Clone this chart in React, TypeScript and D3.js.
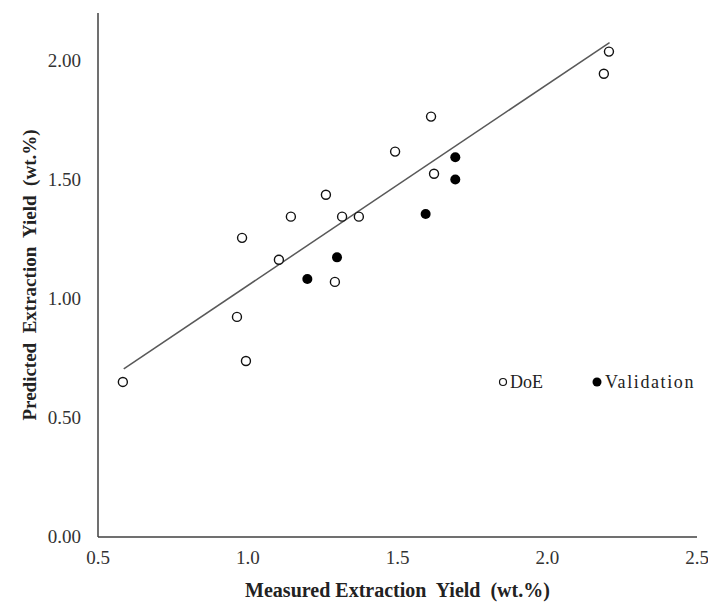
import React from "react";
import * as d3 from "d3";

// DoE runs (open markers)
const doeMeasured = [0.583, 0.964, 0.981, 0.994, 1.104, 1.144, 1.261, 1.291, 1.315, 1.371, 1.492, 1.612, 1.622, 2.189, 2.206];
const doePredicted = [0.651, 0.924, 1.256, 0.739, 1.164, 1.345, 1.437, 1.071, 1.345, 1.345, 1.618, 1.765, 1.525, 1.945, 2.038];

// Validation runs (filled markers)
const valMeasured = [1.199, 1.298, 1.594, 1.693, 1.693];
const valPredicted = [1.083, 1.174, 1.356, 1.501, 1.594];

// linear trendline end points
const trendX = [0.586, 2.208];
const trendY = [0.706, 2.076];

const xTicks = [0.5, 1.0, 1.5, 2.0, 2.5];
const yTicks = [0, 0.5, 1.0, 1.5, 2.0];

const W = 708;
const H = 604;
const font = "Liberation Serif";

const App = () => {
  const margin = { top: 13, right: 11, bottom: 67, left: 98 };

  const x = d3
    .scaleLinear()
    .domain([0.5, 2.5])
    .range([margin.left, W - margin.right]);

  const y = d3
    .scaleLinear()
    .domain([0, 2.2])
    .range([H - margin.bottom, margin.top]);

  const line = d3
    .line<number>()
    .x((d) => x(d))
    .y((d, i) => y(trendY[i]));

  const doe = doeMeasured.map((m, i) => ({ m, p: doePredicted[i] }));
  const val = valMeasured.map((m, i) => ({ m, p: valPredicted[i] }));

  return (
    <svg width={W} height={H} style={{ position: "absolute", left: 0, top: 0 }}>
      <rect width={W} height={H} fill="#fff" />

      {/* axes */}
      <line x1={x(0.5)} x2={x(0.5)} y1={y(2.2)} y2={y(0)} stroke="#404040" strokeWidth={1.5} />
      <line x1={x(0.5)} x2={x(2.5)} y1={y(0)} y2={y(0)} stroke="#404040" strokeWidth={1.5} />

      {xTicks.map((t) => (
        <text key={t} x={x(t)} y={y(0) + 27} textAnchor="middle" fontFamily={font} fontSize={19} fill="#333">
          {d3.format(".1f")(t)}
        </text>
      ))}
      {yTicks.map((t) => (
        <text key={t} x={x(0.5) - 17} y={y(t) + 6} textAnchor="end" fontFamily={font} fontSize={19} fill="#333">
          {d3.format(".2f")(t)}
        </text>
      ))}

      {/* trendline */}
      <path d={line(trendX) || ""} fill="none" stroke="#595959" strokeWidth={1.5} />

      {doe.map((d, i) => (
        <circle key={"d" + i} cx={x(d.m)} cy={y(d.p)} r={4.5} fill="#fff" stroke="#111" strokeWidth={1.4} />
      ))}
      {val.map((d, i) => (
        <circle key={"v" + i} cx={x(d.m)} cy={y(d.p)} r={5} fill="#000" />
      ))}

      {/* legend */}
      <circle cx={503} cy={382} r={3.5} fill="#fff" stroke="#111" strokeWidth={1.2} />
      <text x={510} y={388} fontFamily={font} fontSize={18} fill="#222">DoE</text>
      <circle cx={597} cy={382} r={4.5} fill="#000" />
      <text x={605} y={388} fontFamily={font} fontSize={18} fill="#222" letterSpacing={1.6}>Validation</text>

      {/* axis titles */}
      <text
        x={(x(0.5) + x(2.5)) / 2}
        y={597}
        textAnchor="middle"
        fontFamily={font}
        fontSize={20}
        fontWeight="bold"
        fill="#222"
        style={{ whiteSpace: "pre" }}
      >
        Measured Extraction  Yield  (wt.%)
      </text>
      <text
        transform={`translate(36,${(y(0) + y(2.2)) / 2}) rotate(-90)`}
        textAnchor="middle"
        fontFamily={font}
        fontSize={19}
        fontWeight="bold"
        fill="#222"
        style={{ whiteSpace: "pre" }}
      >
        Predicted  Extraction  Yield  (wt.%)
      </text>
    </svg>
  );
};

export default App;
